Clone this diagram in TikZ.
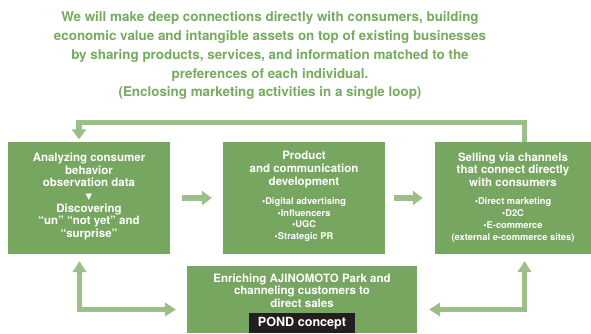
\documentclass[tikz,border=0pt]{standalone}
\usepackage{fontspec}
\setmainfont{TeX Gyre Heros}
\newfontfamily\symfont{DejaVu Sans}
\usetikzlibrary{arrows.meta}
\definecolor{leadgreen}{RGB}{116,171,92}
\definecolor{boxgreen}{RGB}{118,166,96}
\definecolor{arrowgreen}{RGB}{156,190,136}
\definecolor{pondblack}{RGB}{35,31,32}

\begin{document}
\begin{tikzpicture}[x=1pt,y=-1pt,
    box/.style={rectangle,fill=boxgreen,inner sep=0pt},
    heading/.style={text=white,align=center,inner sep=0pt,font=\bfseries\fontsize{11.5}{12.7}\selectfont},
    bullets/.style={text=white,align=center,inner sep=0pt,font=\bfseries\fontsize{9.3}{11.7}\selectfont},
    flow/.style={draw=arrowgreen,line width=5.5pt,-{Triangle[width=14pt,length=10pt]}},
    both/.style={draw=arrowgreen,line width=5pt,{Triangle[width=13.5pt,length=11pt]}-{Triangle[width=13.5pt,length=11pt]}}]
    \useasboundingbox (0,0) rectangle (591,333);

    % lead text
    \node[text=leadgreen,align=center,inner sep=0pt,font=\bfseries\fontsize{13.4}{18.75}\selectfont] (lead) at (270,55.8)
        {We will make deep connections directly with consumers, building\\
         economic value and intangible assets on top of existing businesses\\
         by sharing products, services, and information matched to the\\
         preferences of each individual.\\
         (Enclosing marketing activities in a single loop)};

    % the four boxes
    \node[box,minimum width=162pt,minimum height=112pt] (an) at (89,198) {};
    \node[box,minimum width=162pt,minimum height=112pt] (dev) at (304,198) {};
    \node[box,minimum width=156pt,minimum height=112pt] (sell) at (513,198) {};
    \node[box,minimum width=230pt,minimum height=67pt] (pond) at (302,299.5) {};
    \node[fill=pondblack,minimum width=106pt,minimum height=20pt,inner sep=0pt,text=white,
          font=\bfseries\fontsize{12.6}{14}\selectfont] (pondtag) at (302,323) {POND concept};

    % box texts
    \node[heading] (antext) at (89,196.5) {Analyzing consumer\\behavior\\observation data\\
        {\symfont\fontsize{8.5}{12.7}\selectfont ▼}\\Discovering\\“un” “not yet” and\\“surprise”};
    \node[heading] (devhead) at (304,169.5) {Product\\and communication\\development};
    \node[bullets] (devlist) at (304,219.5) {•Digital advertising\\•Influencers\\•UGC\\•Strategic PR};
    \node[heading] (sellhead) at (513,169.5) {Selling via channels\\that connect directly\\with consumers};
    \node[bullets] (selllist) at (513,220) {•Direct marketing\\•D2C\\•E-commerce\\(external e-commerce sites)};
    \node[heading] (pondhead) at (302,290.5) {Enriching AJINOMOTO Park and\\channeling customers to\\direct sales};

    % loop arrows
    \draw[flow,shorten <=12pt,shorten >=11pt] (an.east) -- (dev.east -| dev.west);
    \draw[flow,shorten <=9pt,shorten >=12pt] (dev.east) -- (sell.west);
    \draw[flow] ([xshift=11.5pt]sell.north) |- (79,122.5) -- ([xshift=-10pt,yshift=2.5pt]an.north);
    \draw[both] ([xshift=-9.5pt,yshift=-7pt]an.south) |- ([xshift=-11pt,yshift=-10pt]pond.west);
    \draw[both] ([xshift=11.5pt,yshift=-7pt]sell.south) |- ([xshift=12pt,yshift=-10pt]pond.east);
\end{tikzpicture}
\end{document}
